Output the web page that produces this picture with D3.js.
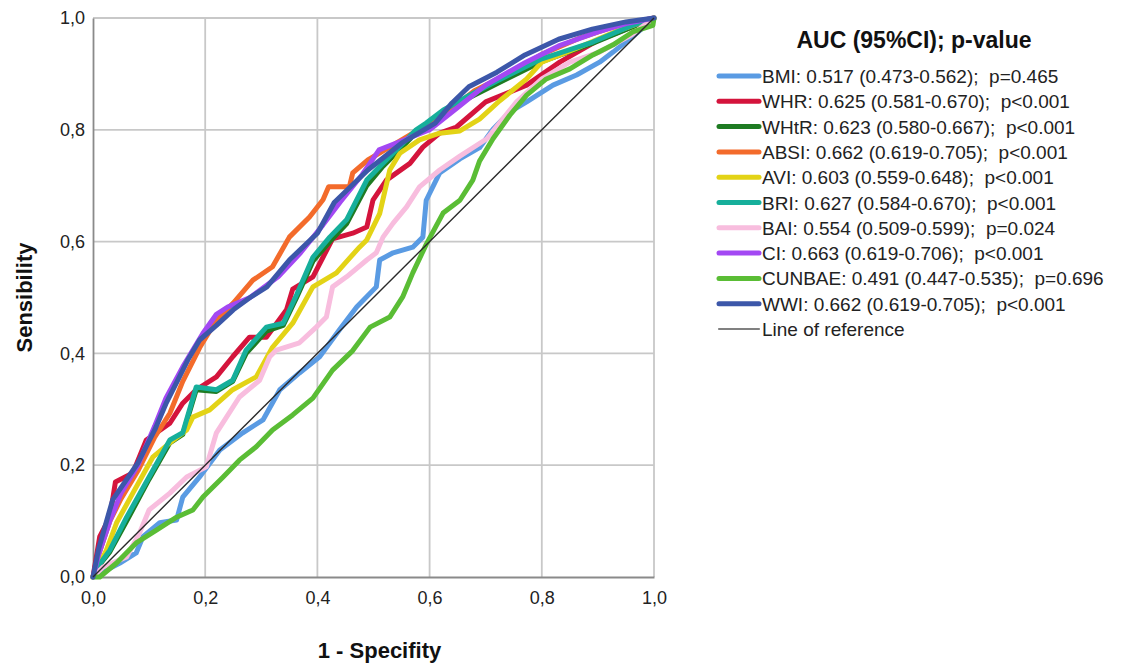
<!DOCTYPE html>
<html>
<head>
<meta charset="utf-8">
<script src="https://cdn.jsdelivr.net/npm/d3@7"></script>
<style>
  body { margin: 0; background: #fff; }
  text { font-family: "Liberation Sans", Arial, sans-serif; }
</style>
</head>
<body>
<div id="chart"></div>
<script>
// DATA (1 - specificity, sensitivity)
const BMI = [[0,0],[0.048,0.025],[0.077,0.043],[0.089,0.072],[0.119,0.097],[0.149,0.102],[0.16,0.143],[0.19,0.179],[0.226,0.227],[0.267,0.258],[0.303,0.281],[0.333,0.335],[0.368,0.365],[0.404,0.394],[0.439,0.442],[0.47,0.483],[0.505,0.519],[0.511,0.567],[0.535,0.58],[0.57,0.59],[0.588,0.608],[0.594,0.674],[0.618,0.723],[0.654,0.748],[0.689,0.768],[0.713,0.801],[0.743,0.832],[0.773,0.85],[0.82,0.88],[0.862,0.898],[0.903,0.921],[0.927,0.939],[0.96,0.965],[1,1]]
const WHR = [[0,0],[0.012,0.072],[0.03,0.107],[0.04,0.17],[0.071,0.186],[0.095,0.245],[0.137,0.275],[0.16,0.311],[0.184,0.335],[0.22,0.358],[0.249,0.394],[0.279,0.429],[0.309,0.429],[0.345,0.478],[0.356,0.515],[0.392,0.537],[0.41,0.572],[0.427,0.605],[0.463,0.615],[0.488,0.626],[0.499,0.674],[0.523,0.71],[0.565,0.74],[0.588,0.769],[0.618,0.794],[0.648,0.805],[0.7,0.85],[0.773,0.88],[0.832,0.921],[0.9,0.96],[1,1]]
const WHtR = [[0,0],[0.01,0.02],[0.03,0.045],[0.06,0.1],[0.1,0.175],[0.137,0.24],[0.16,0.255],[0.184,0.335],[0.22,0.332],[0.249,0.35],[0.273,0.4],[0.309,0.44],[0.339,0.45],[0.363,0.5],[0.392,0.565],[0.422,0.6],[0.452,0.632],[0.488,0.7],[0.517,0.735],[0.547,0.765],[0.576,0.795],[0.624,0.83],[0.666,0.855],[0.719,0.882],[0.8,0.922],[0.891,0.955],[1,1]]
const ABSI = [[0,0],[0.01,0.04],[0.03,0.1],[0.05,0.14],[0.08,0.19],[0.11,0.25],[0.137,0.293],[0.16,0.35],[0.19,0.41],[0.22,0.46],[0.25,0.49],[0.285,0.531],[0.32,0.555],[0.35,0.608],[0.386,0.644],[0.41,0.675],[0.42,0.698],[0.457,0.698],[0.463,0.723],[0.49,0.746],[0.53,0.77],[0.58,0.8],[0.63,0.83],[0.68,0.87],[0.74,0.9],[0.8,0.935],[0.87,0.965],[0.93,0.985],[1,1]]
const AVI = [[0,0],[0.024,0.048],[0.042,0.097],[0.071,0.15],[0.107,0.215],[0.137,0.24],[0.167,0.263],[0.178,0.286],[0.208,0.299],[0.249,0.335],[0.291,0.358],[0.32,0.411],[0.356,0.454],[0.392,0.519],[0.434,0.544],[0.457,0.57],[0.475,0.59],[0.488,0.603],[0.511,0.65],[0.529,0.728],[0.547,0.758],[0.582,0.782],[0.618,0.794],[0.654,0.798],[0.689,0.819],[0.725,0.852],[0.773,0.891],[0.8,0.921],[0.86,0.945],[0.93,0.975],[1,1]]
const BRI = [[0,0],[0.01,0.02],[0.03,0.048],[0.06,0.107],[0.1,0.179],[0.137,0.245],[0.16,0.258],[0.184,0.34],[0.22,0.335],[0.249,0.352],[0.273,0.406],[0.309,0.447],[0.339,0.454],[0.363,0.505],[0.392,0.572],[0.422,0.608],[0.452,0.639],[0.488,0.71],[0.517,0.74],[0.547,0.77],[0.576,0.8],[0.594,0.812],[0.624,0.835],[0.666,0.859],[0.719,0.887],[0.8,0.927],[0.891,0.957],[0.962,0.987],[1,1]]
const BAI = [[0,0],[0.018,0.018],[0.06,0.036],[0.083,0.079],[0.1,0.12],[0.137,0.15],[0.167,0.179],[0.202,0.197],[0.22,0.258],[0.238,0.286],[0.261,0.322],[0.297,0.352],[0.315,0.394],[0.327,0.406],[0.368,0.419],[0.398,0.447],[0.416,0.465],[0.427,0.519],[0.452,0.537],[0.488,0.567],[0.505,0.58],[0.517,0.608],[0.535,0.633],[0.559,0.662],[0.582,0.698],[0.618,0.728],[0.654,0.753],[0.702,0.784],[0.755,0.85],[0.8,0.891],[0.85,0.921],[0.903,0.939],[0.927,0.952],[0.96,0.97],[1,1]]
const CI = [[0,0],[0.01,0.04],[0.03,0.1],[0.05,0.15],[0.08,0.2],[0.11,0.27],[0.13,0.32],[0.16,0.376],[0.196,0.436],[0.22,0.47],[0.24,0.483],[0.28,0.5],[0.33,0.537],[0.37,0.58],[0.41,0.63],[0.44,0.67],[0.48,0.72],[0.51,0.764],[0.55,0.78],[0.6,0.8],[0.65,0.84],[0.7,0.88],[0.77,0.92],[0.83,0.95],[0.9,0.975],[0.95,0.99],[1,1]]
const CUNBAE = [[0,0],[0.012,0],[0.042,0.025],[0.077,0.061],[0.113,0.084],[0.149,0.107],[0.178,0.12],[0.196,0.143],[0.232,0.179],[0.261,0.209],[0.291,0.233],[0.32,0.263],[0.356,0.29],[0.392,0.32],[0.427,0.37],[0.463,0.405],[0.494,0.447],[0.529,0.465],[0.552,0.501],[0.57,0.544],[0.594,0.595],[0.624,0.651],[0.654,0.674],[0.677,0.71],[0.689,0.744],[0.713,0.784],[0.743,0.826],[0.773,0.862],[0.808,0.891],[0.85,0.909],[0.891,0.934],[0.927,0.952],[0.962,0.975],[0.998,0.987],[1,1]]
const WWI = [[0,0],[0.01,0.05],[0.035,0.138],[0.05,0.16],[0.08,0.204],[0.11,0.263],[0.13,0.31],[0.15,0.35],[0.17,0.39],[0.19,0.424],[0.22,0.45],[0.25,0.478],[0.28,0.5],[0.31,0.519],[0.35,0.567],[0.4,0.615],[0.43,0.67],[0.49,0.728],[0.55,0.776],[0.61,0.812],[0.64,0.848],[0.67,0.877],[0.72,0.903],[0.77,0.934],[0.83,0.962],[0.89,0.98],[0.95,0.993],[1,1]]
const REF = [[0,0],[1,1]]

const seriesNames = ["BMI","WHR","WHtR","ABSI","AVI","BRI","BAI","CI","CUNBAE","WWI"]
const seriesData = [BMI, WHR, WHtR, ABSI, AVI, BRI, BAI, CI, CUNBAE, WWI]
const legendLabels = [
  "BMI: 0.517 (0.473-0.562);  p=0.465",
  "WHR: 0.625 (0.581-0.670);  p<0.001",
  "WHtR: 0.623 (0.580-0.667);  p<0.001",
  "ABSI: 0.662 (0.619-0.705);  p<0.001",
  "AVI: 0.603 (0.559-0.648);  p<0.001",
  "BRI: 0.627 (0.584-0.670);  p<0.001",
  "BAI: 0.554 (0.509-0.599);  p=0.024",
  "CI: 0.663 (0.619-0.706);  p<0.001",
  "CUNBAE: 0.491 (0.447-0.535);  p=0.696",
  "WWI: 0.662 (0.619-0.705);  p<0.001"
]
const ticks = [0, 0.2, 0.4, 0.6, 0.8, 1.0]

const colors = ["#5a9be3","#d4143c","#1e7b22","#f36b2b","#e3d316","#16af9b","#f8bdde","#a348f3","#5abd35","#3c57a9"]

const W = 1123, H = 668
const plot = {left: 93, top: 18, right: 654, bottom: 577}

const svg = d3.select("#chart").append("svg")
  .attr("width", W)
  .attr("height", H)

const xScale = d3.scaleLinear().domain([0, 1]).range([plot.left, plot.right])
const yScale = d3.scaleLinear().domain([0, 1]).range([plot.bottom, plot.top])

const fmt = d => d3.format(".1f")(d).replace(".", ",")

// grid
svg.append("g")
  .selectAll("line.vg")
  .data(ticks.slice(1))
  .join("line")
    .attr("x1", d => xScale(d)).attr("x2", d => xScale(d))
    .attr("y1", plot.top).attr("y2", plot.bottom)
    .attr("stroke", "#c8c8c8").attr("stroke-width", 1.8)
svg.append("g")
  .selectAll("line.hg")
  .data(ticks.slice(1))
  .join("line")
    .attr("x1", plot.left).attr("x2", plot.right)
    .attr("y1", d => yScale(d)).attr("y2", d => yScale(d))
    .attr("stroke", "#c8c8c8").attr("stroke-width", 1.8)

// axes
const xAxis = d3.axisBottom(xScale).tickValues(ticks).tickFormat(fmt).tickSize(0).tickPadding(14)
const yAxis = d3.axisLeft(yScale).tickValues(ticks).tickFormat(fmt).tickSize(0).tickPadding(8)

svg.append("g")
  .attr("transform", `translate(0,${plot.bottom})`)
  .call(xAxis)
  .call(g => g.select(".domain").attr("stroke", "#8a8a8a").attr("stroke-width", 1.8))
  .selectAll("text").attr("font-size", 18).attr("fill", "#222")

svg.append("g")
  .attr("transform", `translate(${plot.left},0)`)
  .call(yAxis)
  .call(g => g.select(".domain").attr("stroke", "#8a8a8a").attr("stroke-width", 1.8))
  .selectAll("text").attr("font-size", 18).attr("fill", "#222")

// axis titles
svg.append("text")
  .text("1 - Specifity")
  .attr("x", (plot.left + plot.right) / 2 + 6)
  .attr("y", 658)
  .attr("text-anchor", "middle")
  .attr("font-size", 22).attr("font-weight", "bold").attr("fill", "#111")

svg.append("text")
  .text("Sensibility")
  .attr("transform", `translate(32,${(plot.top + plot.bottom) / 2}) rotate(-90)`)
  .attr("text-anchor", "middle")
  .attr("font-size", 22).attr("font-weight", "bold").attr("fill", "#111")

// curves
const line = d3.line()
  .x(d => xScale(d[0]))
  .y(d => yScale(d[1]))

svg.append("g")
  .selectAll("path")
  .data(seriesData)
  .join("path")
    .attr("d", line)
    .attr("fill", "none")
    .attr("stroke", (d, i) => colors[i])
    .attr("stroke-width", 5)
    .attr("stroke-linejoin", "round")
    .attr("stroke-linecap", "round")

svg.append("path")
  .attr("d", line(REF))
  .attr("fill", "none")
  .attr("stroke", "#2a2a2a")
  .attr("stroke-width", 1.4)

// legend
const legend = svg.append("g")
legend.append("text")
  .text("AUC (95%CI); p-value")
  .attr("x", 914).attr("y", 48)
  .attr("text-anchor", "middle")
  .attr("font-size", 23).attr("font-weight", "bold").attr("fill", "#111")

const rows = legend.selectAll("g.row")
  .data(legendLabels.concat(["Line of reference"]))
  .join("g")
    .attr("transform", (d, i) => `translate(719,${76 + i * 25.3})`)

rows.append("line")
  .attr("x1", 0).attr("x2", 40)
  .attr("stroke", (d, i) => i < colors.length ? colors[i] : "#808080")
  .attr("stroke-width", (d, i) => i < colors.length ? 5 : 2.2)
  .attr("stroke-linecap", "round")

rows.append("text")
  .text(d => d)
  .attr("x", 43).attr("y", 7)
  .attr("font-size", 19).attr("fill", "#222")
  .style("white-space", "pre")
</script>
</body>
</html>
